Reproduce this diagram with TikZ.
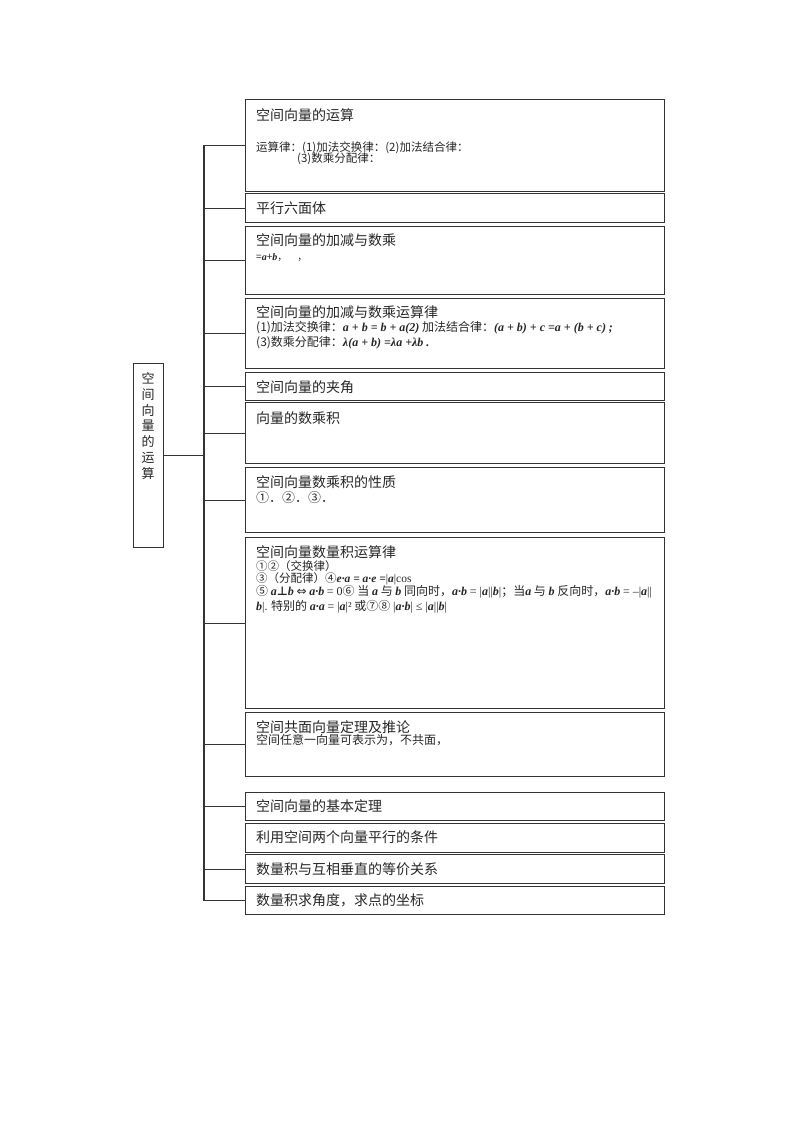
\documentclass[tikz,border=0pt]{standalone}
\usepackage{fontspec}
\setmainfont{Liberation Serif}
\newfontfamily\cjk{Noto Sans CJK SC}
\newfontfamily\symf{DejaVu Sans}
\usetikzlibrary{positioning}
\newcommand{\vfont}{\rmfamily\bfseries\itshape}

\begin{document}
\begin{tikzpicture}[x=1pt, y=-1pt,
    box/.style={draw=black!80, line width=1.3pt, inner sep=0pt, anchor=north west, minimum width=419pt},
    link/.style={draw=black!80, line width=1.3pt},
    head/.style={anchor=west, inner sep=0pt, text=black!85, font=\cjk\fontsize{14}{16}\selectfont},
    body/.style={anchor=west, inner sep=0pt, text=black!85, font=\cjk\fontsize{11.5}{13}\selectfont},
    rule/.style={anchor=west, inner sep=0pt, text=black!85, font=\cjk\fontsize{12}{14}\selectfont}]
\useasboundingbox (0,0) rectangle (800,1132);

% boxes on the right
\foreach \n/\t/\b in {1/99/191, 2/193/222, 3/226/294, 4/298/368, 5/372/400, 6/402/463, 7/467/532,
                      8/537/708, 9/712/776, 10/792/820, 11/823/852, 12/854/883, 13/886/914} {
        \node[box, minimum height=\b-\t] (b\n) at (245,\t) {};
    }

% root box
\node[box, minimum width=30pt, minimum height=184pt] (root) at (133,363) {};
\node[font=\cjk\fontsize{13}{15.7}\selectfont, text=black!85, align=center, inner sep=0pt] (rootlabel) at (148,426) {空\\间\\向\\量\\的\\运\\算};

% connectors
\coordinate (trunk) at (204,145);
\draw[link] (b1.west) -- (trunk|-b1.west) -- (trunk|-b13.west) -- (b13.west);
\foreach \n in {2,3,4,5,6,7,8,9,10,12} {
        \draw[link] (trunk|-b\n.west) -- (b\n.west);
    }
\draw[link] (root.east) -- (trunk|-root.east);

% texts
\node[head] (h1) at (256,115) {空间向量的运算};
\node[body] (l1a) at (256,148) {运算律：(1)加法交换律：(2)加法结合律：};
\node[body] (l1b) at (297,159) {(3)数乘分配律：};
\node[head] (h2) at (256,208) {平行六面体};
\node[head] (h3) at (256,240) {空间向量的加减与数乘};
\node[body, font=\cjk\fontsize{10}{12}\selectfont] (l3) at (256,258) {={\vfont a}+{\vfont b}，\quad ，};
\node[head] (h4) at (256,312) {空间向量的加减与数乘运算律};
\node[rule] (l4a) at (256,328) {(1)加法交换律：{\vfont a + b = b + a(2)} 加法结合律：{\vfont (a + b) + c =a + (b + c) ;}};
\node[rule] (l4b) at (256,343) {(3)数乘分配律：{\vfont λ(a + b) =λa +λb .}};
\node[head] (h5) at (256,387) {空间向量的夹角};
\node[head] (h6) at (256,418) {向量的数乘积};
\node[head] (h7) at (256,482) {空间向量数乘积的性质};
\node[rule, font=\cjk\fontsize{13}{15}\selectfont] (l7) at (256,498) {①．②．③．};
\node[head] (h8) at (256,552) {空间向量数量积运算律};
\node[body] (l8a) at (256,566) {①②（交换律）};
\node[body] (l8b) at (256,579) {③（分配律）④{\vfont e·a = a·e =}{\rmfamily |}{\vfont a}{\rmfamily |cos}};
\node[rule] (l8c) at (256,592) {⑤ {\vfont a{\symf ⊥}b} {\symf ⇔} {\vfont a·b} {\rmfamily = 0}⑥ 当 {\vfont a} 与 {\vfont b} 同向时，{\vfont a·b} {\rmfamily = |}{\vfont a}{\rmfamily ||}{\vfont b}{\rmfamily |}；当{\vfont a} 与 {\vfont b} 反向时，{\vfont a·b} {\rmfamily = –|}{\vfont a}{\rmfamily ||}};
\node[rule] (l8d) at (256,607) {{\vfont b}{\rmfamily |.} 特别的 {\vfont a·a} {\rmfamily = |}{\vfont a}{\rmfamily |²} 或⑦⑧ {\rmfamily |}{\vfont a·b}{\rmfamily | ≤ |}{\vfont a}{\rmfamily ||}{\vfont b}{\rmfamily |}};
\node[head] (h9) at (256,727) {空间共面向量定理及推论};
\node[rule] (l9) at (256,740) {空间任意一向量可表示为，不共面，};
\node[head] (h10) at (256,806) {空间向量的基本定理};
\node[head] (h11) at (256,837) {利用空间两个向量平行的条件};
\node[head] (h12) at (256,869) {数量积与互相垂直的等价关系};
\node[head] (h13) at (256,900) {数量积求角度，求点的坐标};
\end{tikzpicture}
\end{document}
